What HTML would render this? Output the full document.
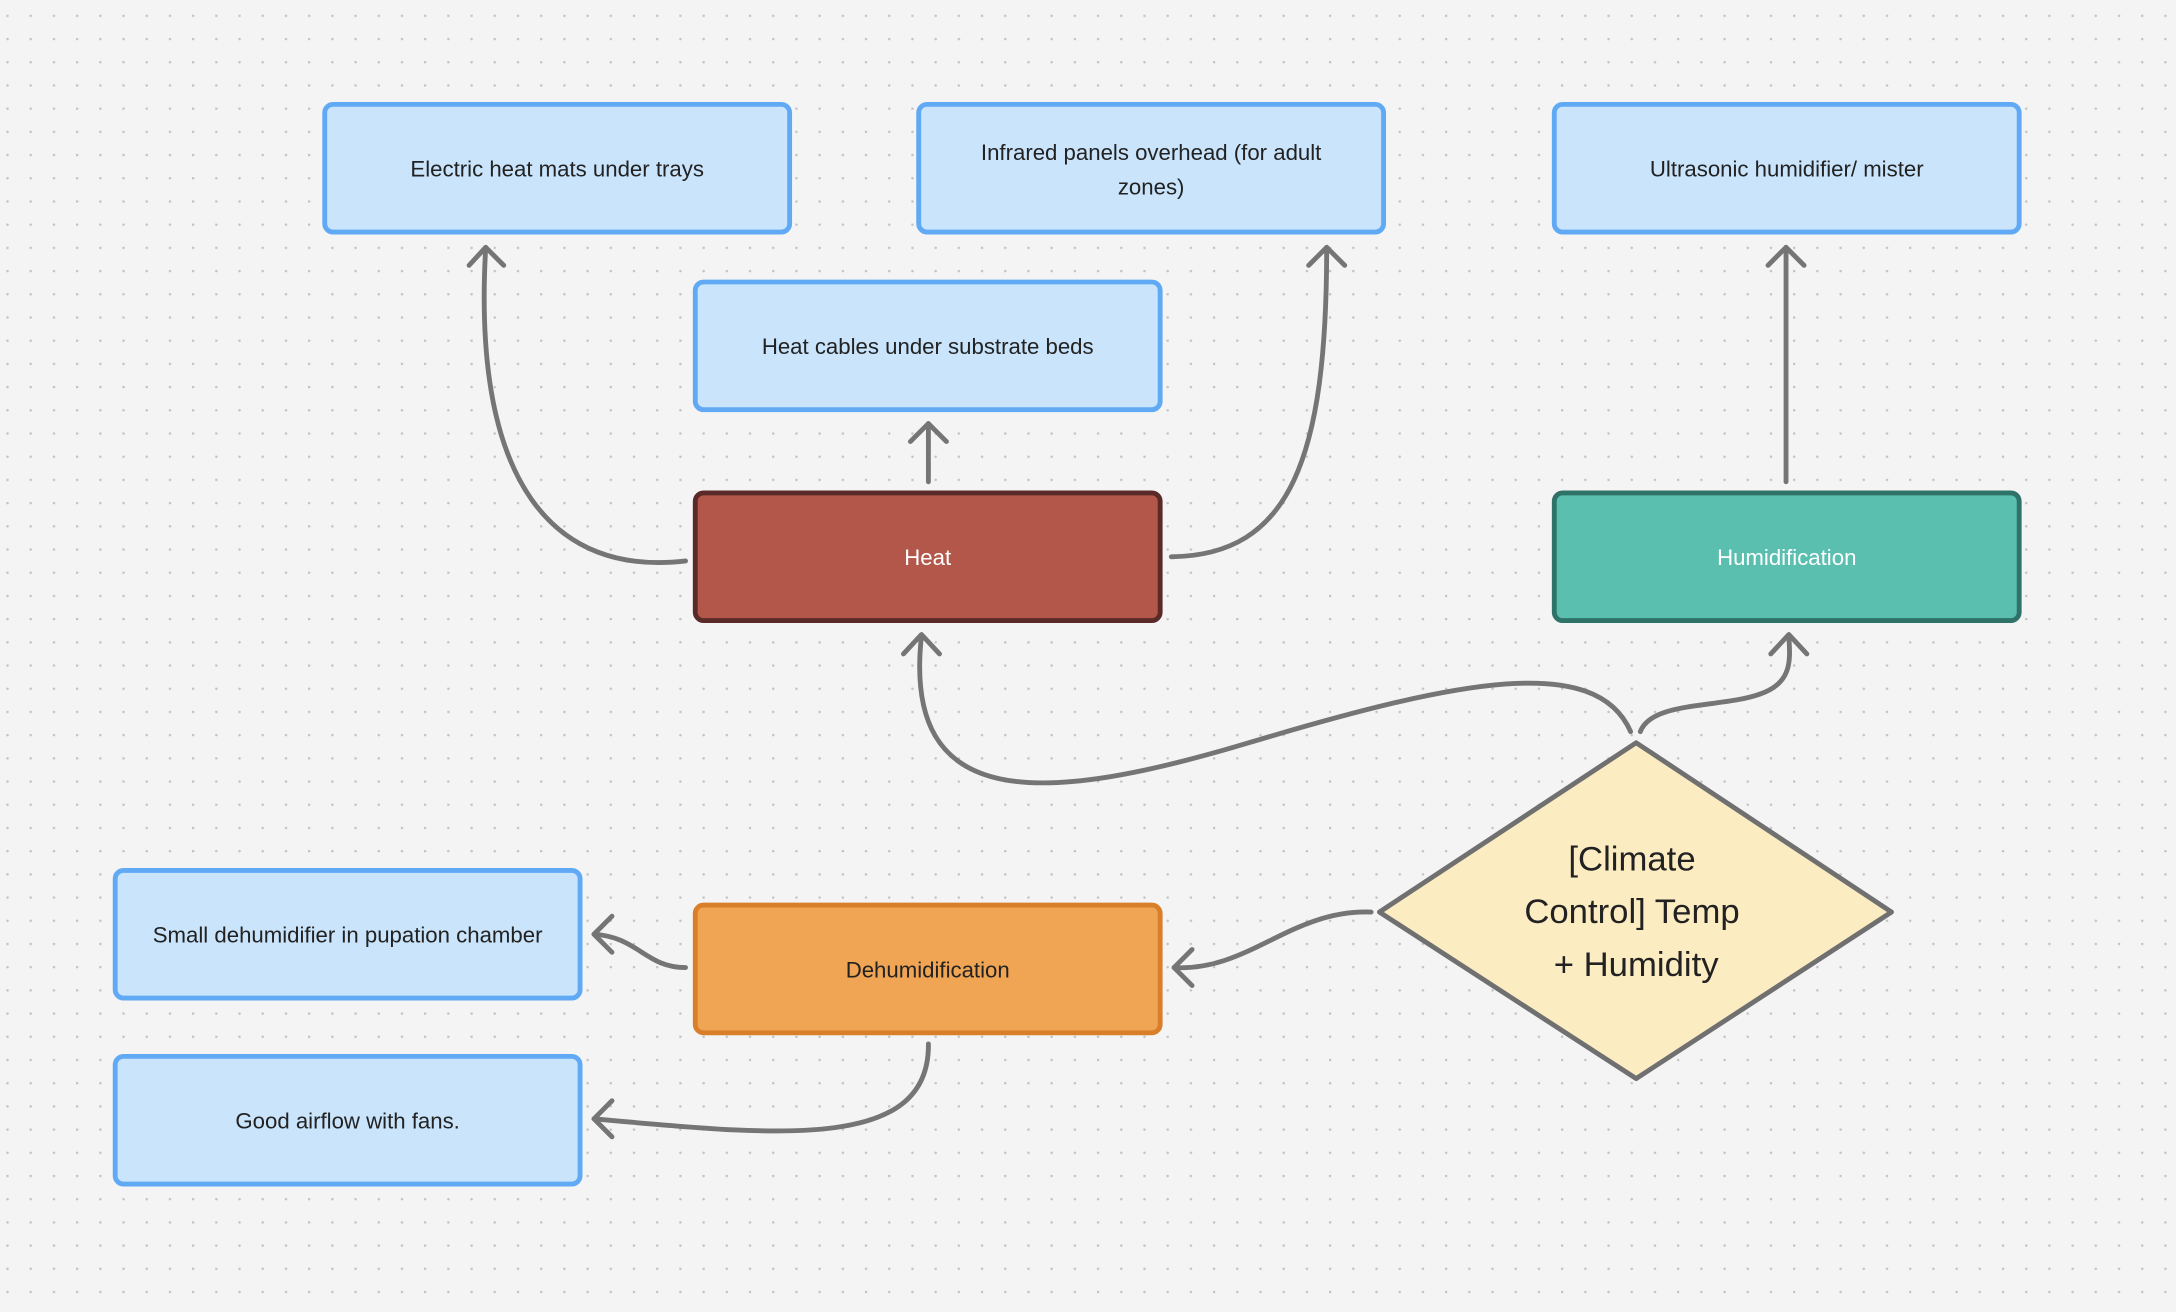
<!DOCTYPE html>
<html><head><meta charset="utf-8"><style>
html,body{margin:0;padding:0;background:#f4f4f4;}
svg{display:block;}
text{font-family:"Liberation Sans",sans-serif;fill:#222;}
</style></head><body>
<svg width="2176" height="1312" viewBox="0 0 1568 945" xmlns="http://www.w3.org/2000/svg">
<defs>
<pattern id="dots" x="4.6" y="10.4" width="16.72" height="16.72" patternUnits="userSpaceOnUse">
<circle cx="0.8" cy="0.8" r="0.9" fill="#c2c2c2"/>
</pattern>
</defs>
<rect width="1568" height="945" fill="#f4f4f4"/>
<rect width="1568" height="945" fill="url(#dots)"/>

<g fill="none" stroke="#757575" stroke-width="3.5" stroke-linecap="round" stroke-linejoin="round">
<path d="M494,404 C400,415 340,350 350,178"/>
<path d="M338,191 L350,178 L363,191"/>
<path d="M669,347 L669,305"/>
<path d="M656,318 L669,305 L682,318"/>
<path d="M844,401 C930,400 956,330 956,178"/>
<path d="M943,191 L956,178 L969,191"/>
<path d="M1287,347 L1287,178"/>
<path d="M1274,191 L1287,178 L1300,191"/>
<path d="M1175,527 C1150,470 1050,490 900,535 C750,580 650,585 664,458"/>
<path d="M651,471 L664,457 L677,471"/>
<path d="M1182,527 C1190,505 1240,510 1268,500 C1292,492 1290,475 1289,458"/>
<path d="M1276,471 L1289,457 L1302,471"/>
<path d="M988,657 C930,655 900,700 846,697"/>
<path d="M859,684 L846,697 L859,710"/>
<path d="M494,697 C465,697 460,675 428,673"/>
<path d="M441,660 L428,673 L441,686"/>
<path d="M669,752 C670,830 560,818 428,806"/>
<path d="M441,793 L428,806 L441,819"/>
</g>

<g stroke-width="3.5">
<rect x="234" y="75" width="335" height="92" rx="6" fill="#c9e4fb" stroke="#60a9f5"/>
<rect x="662" y="75" width="335" height="92" rx="6" fill="#c9e4fb" stroke="#60a9f5"/>
<rect x="1120" y="75" width="335" height="92" rx="6" fill="#c9e4fb" stroke="#60a9f5"/>
<rect x="501" y="203" width="335" height="92" rx="6" fill="#c9e4fb" stroke="#60a9f5"/>
<rect x="501" y="355" width="335" height="92" rx="6" fill="#b3574b" stroke="#5a2a28"/>
<rect x="1120" y="355" width="335" height="92" rx="6" fill="#5bbfb0" stroke="#2e7268"/>
<rect x="83" y="627" width="335" height="92" rx="6" fill="#c9e4fb" stroke="#60a9f5"/>
<rect x="501" y="652" width="335" height="92" rx="6" fill="#f0a555" stroke="#d97f2a"/>
<rect x="83" y="761" width="335" height="92" rx="6" fill="#c9e4fb" stroke="#60a9f5"/>
<path d="M1179,535 L1363,657 L1179,777 L994,657 Z" fill="#fcecc2" stroke="#707070" stroke-linejoin="round"/>
</g>

<g font-size="16" text-anchor="middle">
<text x="401.5" y="127">Electric heat mats under trays</text>
<text x="829.5" y="115">Infrared panels overhead (for adult</text>
<text x="829.5" y="140">zones)</text>
<text x="1287.5" y="127">Ultrasonic humidifier/ mister</text>
<text x="668.5" y="255">Heat cables under substrate beds</text>
<text x="668.5" y="407" style="fill:#fff">Heat</text>
<text x="1287.5" y="407" style="fill:#fff">Humidification</text>
<text x="250.5" y="679">Small dehumidifier in pupation chamber</text>
<text x="668.5" y="704">Dehumidification</text>
<text x="250.5" y="813">Good airflow with fans.</text>
</g>
<g font-size="25" text-anchor="middle">
<text x="1176" y="627">[Climate</text>
<text x="1176" y="665">Control] Temp</text>
<text x="1179" y="703">+ Humidity</text>
</g>
</svg>
</body></html>
